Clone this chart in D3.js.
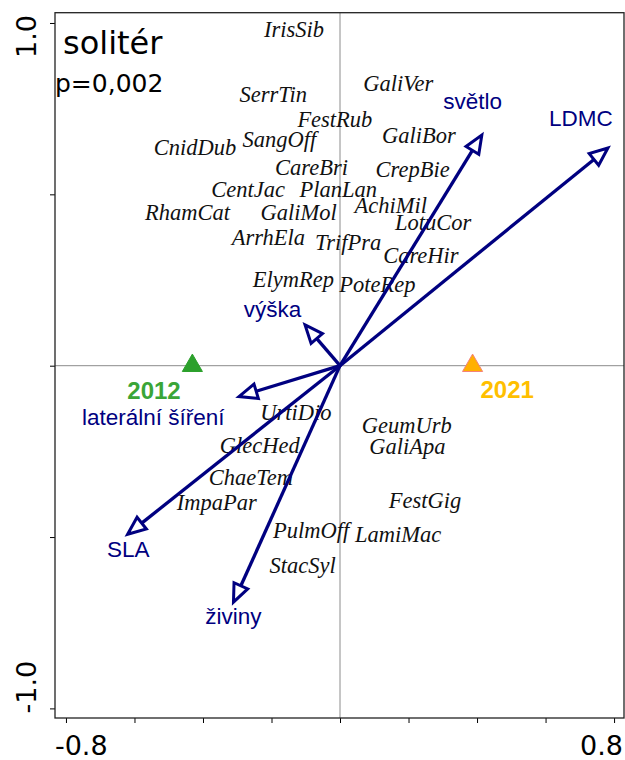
<!DOCTYPE html>
<html>
<head>
<meta charset="utf-8">
<script src="https://cdn.jsdelivr.net/npm/d3@7"></script>
<style>
  body { margin: 0; background: #fff; }
  svg { display: block; }
</style>
</head>
<body>
<script>
// species scores (axis 1, axis 2)
const species = ["IrisSib", "SerrTin", "GaliVer", "FestRub", "GaliBor", "CnidDub", "SangOff",
    "CareBri", "CrepBie", "CentJac", "PlanLan", "AchiMil", "RhamCat", "GaliMol", "LotuCor",
    "ArrhEla", "TrifPra", "CareHir", "ElymRep", "PoteRep", "UrtiDio", "GeumUrb", "GaliApa",
    "GlecHed", "ChaeTem", "ImpaPar", "FestGig", "PulmOff", "LamiMac", "StacSyl"];
const speciesX = [-0.134, -0.195, 0.170, -0.015, 0.230, -0.423, -0.177,
    -0.083, 0.212, -0.268, -0.005, 0.148, -0.445, -0.121, 0.272,
    -0.209, 0.024, 0.236, -0.136, 0.109, -0.129, 0.195, 0.197,
    -0.234, -0.260, -0.360, 0.248, -0.084, 0.170, -0.109];
const speciesY = [0.980, 0.791, 0.823, 0.718, 0.669, 0.635, 0.659,
    0.577, 0.572, 0.514, 0.514, 0.465, 0.446, 0.446, 0.416,
    0.373, 0.358, 0.319, 0.251, 0.236, -0.138, -0.177, -0.237,
    -0.235, -0.328, -0.401, -0.396, -0.483, -0.493, -0.585];

// trait vectors (passive) and where their labels sit
const traits = ["LDMC", "světlo", "výška", "laterální šíření", "SLA", "živiny"];
const traitX = [0.782, 0.414, -0.102, -0.295, -0.620, -0.311];
const traitY = [0.635, 0.673, 0.119, -0.090, -0.492, -0.690];
const traitLabelX = [0.703, 0.387, -0.197, -0.545, -0.618, -0.311];
const traitLabelY = [0.723, 0.772, 0.166, -0.151, -0.534, -0.730];

// year centroids
const years = ["2012", "2021"];
const yearX = [-0.431, 0.387];
const yearY = [0, 0];
const yearLabelX = [-0.543, 0.488];
const yearLabelY = [-0.074, -0.071];

const xTicks = [-0.8, -0.6, -0.4, -0.2, 0, 0.2, 0.4, 0.6, 0.8];
const yTicks = [-1, -0.5, 0, 0.5, 1];
const xTickLabels = [-0.8, 0.8];
const yTickLabels = [1, -1];

const title = "solitér";
const pValue = "p=0,002";

const yearFill = { "2012": "#2ca02c", "2021": "#ffb000" };
const yearStroke = { "2012": "#2ca02c", "2021": "#f4827a" };
const yearText = { "2012": "#3aa537", "2021": "#ffbf00" };
const navy = "#000080";

const body = d3.select("body");

let svg = body.append("svg")
    .attr("width", 625)
    .attr("height", 760);

let box = { left: 55, top: 12.7, right: 624, bottom: 718 };

let x = d3.scaleLinear()
    .domain([-0.832, 0.829])
    .range([box.left, box.right]);

let y = d3.scaleLinear()
    .domain([-1.028, 1.030])
    .range([box.bottom, box.top]);

// zero lines
svg.append("line")
    .attr("x1", x(0)).attr("x2", x(0))
    .attr("y1", box.top).attr("y2", box.bottom)
    .attr("stroke", "#8c8c8c").attr("stroke-width", 1);
svg.append("line")
    .attr("x1", box.left).attr("x2", box.right)
    .attr("y1", y(0)).attr("y2", y(0))
    .attr("stroke", "#8c8c8c").attr("stroke-width", 1);

// axes: ticks only, labels at the ends
let xAxis = svg.append("g")
    .attr("transform", "translate(0," + box.bottom + ")")
    .call(d3.axisBottom(x).tickValues(xTicks).tickSize(5).tickFormat(""));
xAxis.select(".domain").remove();

let yAxis = svg.append("g")
    .attr("transform", "translate(" + box.left + ",0)")
    .call(d3.axisLeft(y).tickValues(yTicks).tickSize(5).tickFormat(""));
yAxis.select(".domain").remove();

// R prints a plain hyphen, not the unicode minus
let fmt = (d) => d3.format(".1f")(d).replace("−", "-");

svg.selectAll(".xlab")
    .data(xTickLabels)
    .enter().append("text")
    .attr("class", "xlab")
    .attr("x", (d) => d < 0 ? x(d) - 11 : x(d) + 9)
    .attr("y", 755)
    .attr("text-anchor", (d) => d < 0 ? "start" : "end")
    .style("font-family", "'DejaVu Sans', sans-serif")
    .style("font-size", "27px")
    .text((d) => fmt(d));

svg.selectAll(".ylab")
    .data(yTickLabels)
    .enter().append("text")
    .attr("class", "ylab")
    .attr("transform", (d) => "translate(36," + (d > 0 ? y(d) - 8 : y(d) + 5) + ") rotate(-90)")
    .attr("text-anchor", (d) => d > 0 ? "end" : "start")
    .style("font-family", "'DejaVu Sans', sans-serif")
    .style("font-size", "27px")
    .text((d) => fmt(d));

// species names
svg.selectAll(".sp")
    .data(species)
    .enter().append("text")
    .attr("class", "sp")
    .attr("x", (d, i) => x(speciesX[i]))
    .attr("y", (d, i) => y(speciesY[i]))
    .attr("dy", "0.31em")
    .attr("text-anchor", "middle")
    .attr("fill", "#111")
    .style("font-family", "'Liberation Serif', 'Times New Roman', serif")
    .style("font-style", "italic")
    .style("font-size", "22.5px")
    .text((d) => d);

// trait arrows with open heads
let headLen = 18, headHalf = 7.5;
let arrows = svg.append("g");
traits.forEach((t, i) => {
    let x0 = x(0), y0 = y(0), x1 = x(traitX[i]), y1 = y(traitY[i]);
    let dx = x1 - x0, dy = y1 - y0, len = Math.sqrt(dx * dx + dy * dy);
    let ux = dx / len, uy = dy / len;
    let bx = x1 - ux * headLen, by = y1 - uy * headLen;
    arrows.append("line")
        .attr("x1", x0).attr("y1", y0)
        .attr("x2", bx).attr("y2", by)
        .attr("stroke", navy).attr("stroke-width", 3.3);
    arrows.append("path")
        .attr("d", "M" + x1 + "," + y1 +
            "L" + (bx - uy * headHalf) + "," + (by + ux * headHalf) +
            "L" + (bx + uy * headHalf) + "," + (by - ux * headHalf) + "Z")
        .attr("fill", "none")
        .attr("stroke", navy).attr("stroke-width", 3)
        .attr("stroke-linejoin", "miter");
});

svg.selectAll(".trait")
    .data(traits)
    .enter().append("text")
    .attr("class", "trait")
    .attr("x", (d, i) => x(traitLabelX[i]))
    .attr("y", (d, i) => y(traitLabelY[i]))
    .attr("dy", "0.35em")
    .attr("text-anchor", "middle")
    .attr("fill", navy)
    .style("font-family", "'Liberation Sans', Arial, sans-serif")
    .style("font-size", "22.5px")
    .text((d) => d);

// centroids
svg.selectAll(".yr")
    .data(years)
    .enter().append("path")
    .attr("class", "yr")
    .attr("transform", (d, i) => "translate(" + x(yearX[i]) + "," + y(yearY[i]) + ")")
    .attr("d", d3.symbol().type(d3.symbolTriangle).size(175))
    .attr("fill", (d) => yearFill[d])
    .attr("stroke", (d) => yearStroke[d])
    .attr("stroke-width", 1);

svg.selectAll(".yrlab")
    .data(years)
    .enter().append("text")
    .attr("class", "yrlab")
    .attr("x", (d, i) => x(yearLabelX[i]))
    .attr("y", (d, i) => y(yearLabelY[i]))
    .attr("dy", "0.35em")
    .attr("text-anchor", "middle")
    .attr("fill", (d) => yearText[d])
    .style("font-family", "'Liberation Sans', Arial, sans-serif")
    .style("font-weight", "bold")
    .style("font-size", "24px")
    .text((d) => d);

// frame
svg.append("rect")
    .attr("x", box.left).attr("y", box.top)
    .attr("width", box.right - box.left)
    .attr("height", box.bottom - box.top)
    .attr("fill", "none")
    .attr("stroke", "#222").attr("stroke-width", 1.3);

// title
svg.append("text")
    .attr("x", 63).attr("y", 54)
    .style("font-family", "'DejaVu Sans', sans-serif")
    .style("font-size", "32px")
    .text(title);
svg.append("text")
    .attr("x", 55).attr("y", 91.5)
    .style("font-family", "'DejaVu Sans', sans-serif")
    .style("font-size", "25px")
    .text(pValue);
</script>
</body>
</html>
